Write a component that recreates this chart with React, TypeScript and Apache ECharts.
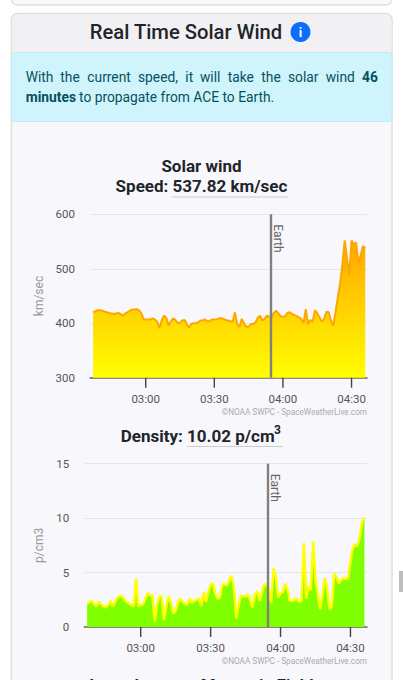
import React, { useEffect, useRef } from "react";
import * as echarts from "echarts";

const FONT = "Roboto";
const startMinute = 157;
const earthMinute = 234.6;
const tickMinutes = [180, 210, 240, 270];
const credit = "©NOAA SWPC - SpaceWeatherLive.com";

const speedTicks = { min: 300, max: 600, interval: 100 };
const densityTicks = { min: 0, max: 15, interval: 5 };

const speed = [
  420, 422, 424, 424, 423, 421, 420, 419, 418, 417, 418, 419, 417, 414, 418, 420, 423, 425, 425, 426,
  424, 419, 408, 407, 407, 407, 409, 407, 403, 391, 405, 414, 410, 396, 403, 409, 406, 400, 401, 405,
  406, 398, 392, 399, 400, 400, 402, 405, 405, 407, 403, 404, 407, 407, 407, 409, 409, 408, 406, 405,
  404, 402, 420, 398, 393, 408, 400, 393, 394, 398, 399, 401, 410, 414, 405, 408, 414, 412, 411, 419,
  423, 418, 413, 412, 413, 419, 420, 417, 415, 413, 411, 408, 400, 426, 398, 406, 403, 424, 418, 411,
  403, 408, 421, 420, 405, 395, 420, 448, 473, 508, 552, 520, 488, 552, 545, 548, 510, 525, 542, 537.82,
];

const density = [
  2.1, 2.3, 2.4, 2.1, 1.9, 2.3, 2.1, 1.9, 1.8, 2.0, 2.4, 1.9, 2.3, 2.7, 2.8, 2.9, 2.5, 2.3, 2.2, 2.0,
  1.9, 4.45, 1.9, 2.0, 2.1, 2.6, 3.1, 2.9, 2.9, 0.5, 2.0, 2.8, 2.8, 0.65, 2.0, 2.8, 2.2, 1.25, 1.5, 2.3,
  2.6, 2.3, 2.1, 2.1, 2.6, 2.2, 2.4, 2.5, 2.6, 1.9, 3.2, 2.3, 3.2, 3.9, 4.0, 3.1, 2.6, 2.7, 3.9, 3.9,
  3.8, 4.3, 4.7, 3.6, 0.8, 2.0, 2.9, 2.8, 2.8, 3.0, 2.5, 1.8, 3.0, 3.3, 2.4, 3.2, 3.9, 3.9, 3.5, 2.2,
  5.4, 4.5, 2.7, 3.1, 3.2, 4.0, 3.4, 2.4, 2.4, 2.5, 2.6, 2.3, 2.4, 7.7, 2.6, 3.7, 3.4, 7.9, 4.3, 3.0,
  1.6, 3.0, 4.5, 3.5, 1.6, 1.9, 4.9, 4.6, 4.0, 4.3, 4.5, 4.4, 4.4, 6.0, 7.2, 7.6, 7.4, 8.3, 9.7, 10.02,
];

const alertLine1 = [
  ["With", 25.7], ["the", 60.3], ["current", 87.3], ["speed,", 138], ["it", 185.3],
  ["will", 200], ["take", 227.7], ["the", 261.3], ["solar", 288], ["wind", 325.7],
] as [string, number][];

const fmtMinute = (m: number) =>
  `${String(Math.floor(m / 60)).padStart(2, "0")}:${String(m % 60).padStart(2, "0")}`;

const txt = (text: string, x: number, y: number, o: any = {}) => ({
  type: "text",
  x,
  y,
  z: 5,
  style: {
    text,
    fontFamily: FONT,
    fontSize: o.size ?? 17,
    fontWeight: o.weight ?? 400,
    fill: o.fill ?? "#212529",
    align: o.align ?? "left",
    verticalAlign: "middle",
  },
});

const box = (x: number, y: number, w: number, h: number, fill: string, r: any = 0, stroke?: string, lw = 1) => ({
  type: "rect",
  z: -1,
  shape: { x, y, width: w, height: h, r },
  style: { fill, stroke: stroke ?? "none", lineWidth: lw },
});

const xAxis = (gridIndex: number, min: number, max: number) => ({
  type: "value",
  gridIndex,
  min,
  max,
  splitLine: { show: false },
  axisLine: { show: true, onZero: false, lineStyle: { color: "#666", width: 1.5 } },
  axisTick: { show: false },
  axisLabel: {
    customValues: tickMinutes,
    formatter: (v: number) => fmtMinute(v),
    color: "#555",
    fontFamily: FONT,
    fontSize: 11.5,
    margin: 15,
    hideOverlap: false,
  },
});

const yAxis = (gridIndex: number, t: any, name: string, nameGap: number) => ({
  type: "value",
  gridIndex,
  ...t,
  name,
  nameLocation: "middle",
  nameRotate: 90,
  nameGap,
  nameTextStyle: { color: "#999", fontFamily: FONT, fontSize: 12 },
  axisLine: { show: false },
  axisTick: { show: false },
  axisLabel: { color: "#555", fontFamily: FONT, fontSize: 11.5, margin: 15 },
  splitLine: { lineStyle: { color: "#e6e6e6", width: 1 } },
});

const earthLine = {
  silent: true,
  symbol: "none",
  animation: false,
  lineStyle: { color: "#808080", width: 2.4, type: "solid" },
  label: { show: false },
  data: [{ xAxis: earthMinute }],
};

const toPoints = (vals: number[]) => vals.map((v, i) => [startMinute + i, v]);

// "Earth" label reading downward beside the marker line
const earthLabelSeries = (index: number, yMax: number) => ({
  type: "custom",
  xAxisIndex: index,
  yAxisIndex: index,
  clip: false,
  silent: true,
  z: 5,
  data: [[earthMinute, yMax]],
  renderItem: (_: any, api: any) => {
    const p = api.coord([api.value(0), api.value(1)]);
    return {
      type: "text",
      x: p[0] + 7.5,
      y: p[1] + 10,
      rotation: -Math.PI / 2,
      style: {
        text: "Earth",
        fontFamily: FONT,
        fontSize: 12,
        fill: "#666",
        align: "left",
        verticalAlign: "middle",
      },
    };
  },
});

export default function App() {
  const ref = useRef<HTMLDivElement>(null);
  useEffect(() => {
    document.body.style.margin = "0";
    document.body.style.background = "#fff";
    document.body.style.overflow = "hidden";
    const chart = echarts.init(ref.current!, undefined, { renderer: "svg" });
    chart.setOption({
      animation: false,
      grid: [
        { left: 90, right: 36, top: 214.3, height: 163.4 },
        { left: 84.3, right: 36, top: 463.7, height: 163.3 },
      ],
      xAxis: [xAxis(0, 155.64, 276.76), xAxis(1, 155.79, 277.1)],
      yAxis: [yAxis(0, speedTicks, "km/sec", 41), yAxis(1, densityTicks, "p/cm3", 35)],
      series: [
        {
          type: "line",
          xAxisIndex: 0,
          yAxisIndex: 0,
          data: toPoints(speed),
          symbol: "none",
          z: 3,
          lineStyle: { color: "#ffa500", width: 2 },
          areaStyle: {
            opacity: 1,
            color: new echarts.graphic.LinearGradient(0, 0, 0, 1, [
              { offset: 0, color: "#ffa500" },
              { offset: 1, color: "#ffff00" },
            ]),
          },
          markLine: earthLine,
        },
        {
          type: "line",
          xAxisIndex: 1,
          yAxisIndex: 1,
          data: toPoints(density),
          symbol: "none",
          z: 3,
          lineStyle: { color: "#ffff00", width: 2.5 },
          areaStyle: { opacity: 1, color: "#7fff00" },
          markLine: earthLine,
        },
        earthLabelSeries(0, speedTicks.max),
        earthLabelSeries(1, densityTicks.max),
      ],
    });

    // x ticks hanging below each axis, placed through the axes' own scales
    const pix = [
      { gridIndex: 0, yMin: speedTicks.min },
      { gridIndex: 1, yMin: densityTicks.min },
    ].flatMap(({ gridIndex, yMin }) =>
      tickMinutes.map((m) => chart.convertToPixel({ gridIndex }, [m, yMin]) as number[]),
    );
    const tickMarks = pix.map((p) => ({
      type: "rect",
      z: 20,
      shape: { x: p[0] - 0.7, y: p[1], width: 1.4, height: 10 },
      style: { fill: "#444" },
    }));

    chart.setOption({
      graphic: [
        box(11.5, -40, 380.5, 45, "#f8f9fc", 6, "#dedede", 1.5),
        box(11.5, 13.5, 380.5, 700, "#f8f8fc", 6, "#dedede", 1.5),
        box(12, 14, 379.5, 38, "#f1f1f4", [6, 6, 0, 0]),
        box(11.5, 52.5, 380.5, 69, "#cff4fc", 4, "#b6effb", 1),
        box(399, 571, 4, 21, "#bdbdbd"),
        txt("Real Time Solar Wind", 186, 32, { size: 20.2, weight: 500, align: "center" }),
        { type: "circle", z: 4, shape: { cx: 300.5, cy: 32, r: 10 }, style: { fill: "#0d6efd" } },
        txt("i", 300.5, 32, { size: 13, weight: 700, fill: "#fff", align: "center" }),
        ...alertLine1.map(([w, x]) => txt(w, x, 76.5, { size: 13.8, fill: "#055160" })),
        txt("46", 362, 76.5, { size: 13.8, weight: 700, fill: "#055160" }),
        txt("minutes", 25.7, 97, { size: 13.8, weight: 700, fill: "#055160" }),
        txt("to propagate from ACE to Earth.", 79, 97, { size: 13.8, fill: "#055160" }),
        txt("Solar wind", 201.5, 166, { weight: 700, align: "center" }),
        txt("Speed: 537.82 km/sec", 201.5, 186, { weight: 700, align: "center" }),
        { type: "line", z: 4, shape: { x1: 172, y1: 197, x2: 288, y2: 197 }, style: { stroke: "#ccc", lineWidth: 1 } },
        txt("Density: 10.02 p/cm", 120.7, 436, { weight: 700 }),
        txt("3", 274, 430, { size: 12, weight: 700 }),
        { type: "line", z: 4, shape: { x1: 187, y1: 446.5, x2: 283, y2: 446.5 }, style: { stroke: "#ccc", lineWidth: 1 } },
        txt(credit, 367, 411.5, { size: 8.2, fill: "#aaa", align: "right" }),
        txt(credit, 367, 661, { size: 8.2, fill: "#aaa", align: "right" }),
        txt("Interplanetary Magnetic Field", 201.5, 685, { weight: 700, align: "center" }),
        ...tickMarks,
      ],
    });
    return () => chart.dispose();
  }, []);
  return <div ref={ref} style={{ width: 403, height: 680 }} />;
}
